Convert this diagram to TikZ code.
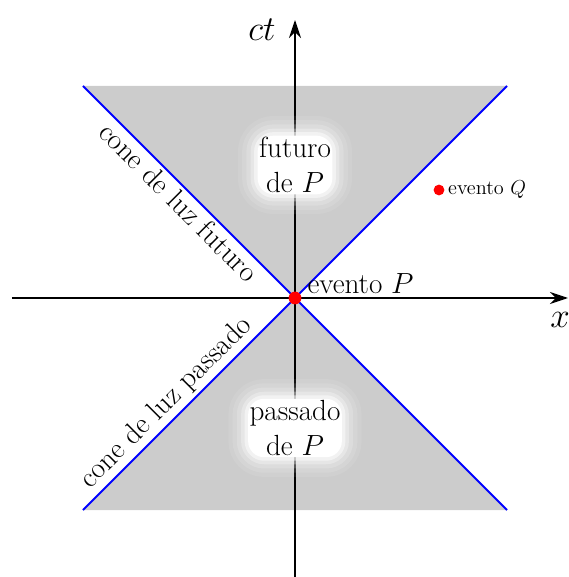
\documentclass[tikz,border=0pt]{standalone}
\usepackage{amsmath}
\usepackage{tikz}
\usetikzlibrary{arrows.meta,positioning}
\definecolor{conegray}{HTML}{CCCCCC}
\begin{document}
\begin{tikzpicture}[
    x=0.025cm,
    y=0.025cm,
    font=\huge,
    axis/.style={-{Stealth[length=4.5mm, width=3mm]}, line width=1.2pt},
    cone/.style={draw=blue, line width=1.3pt},
    region/.style={fill=conegray},
    glow/.style={fill=white, rounded corners=4mm, align=center, inner sep=1pt,
      preaction={draw=white, line width=28pt, opacity=0.08, rounded corners=4mm},
      preaction={draw=white, line width=22pt, opacity=0.12, rounded corners=4mm},
      preaction={draw=white, line width=16pt, opacity=0.18, rounded corners=4mm},
      preaction={draw=white, line width=10pt, opacity=0.3, rounded corners=4mm},
      preaction={draw=white, line width=5pt, opacity=0.5, rounded corners=4mm}},
    event/.style={circle, fill=red, inner sep=0pt, minimum size=3.2mm}
  ]
    \useasboundingbox (-295,-279) rectangle (273,298);
    \coordinate (P) at (0,0);
    \coordinate (ul) at (-212,212);
    \coordinate (ur) at (212,212);
    \coordinate (ll) at (-212,-212);
    \coordinate (lr) at (212,-212);
    \coordinate (xl) at (-283,0);
    \coordinate (xr) at (273,0);
    \coordinate (tb) at (0,-280);
    \coordinate (tt) at (0,278);

    % cones
    \fill[region] (P) -- (ul) -- (ur) -- cycle;
    \fill[region] (P) -- (ll) -- (lr) -- cycle;

    % axes
    \draw[axis] (xl) -- (xr);
    \draw[axis] (tb) -- (tt);
    \node[font=\Huge] (ctlabel) at (-33,268) {$ct$};
    \node[font=\Huge] (xlabel) at (265,-22) {$x$};

    \draw[cone] (ul) -- node[pos=0.25, sloped, below, inner sep=2pt] {cone de luz futuro} (lr);
    \draw[cone] (ll) -- node[pos=0.225, sloped, above, inner sep=2pt] {cone de luz passado} (ur);

    \node[glow] (future) at (0,133) {futuro\\de $P$};
    \node[glow] (past) at (0,-130) {passado\\de $P$};

    \node[event] (Pdot) at (P) {};
    \node[above right=-4pt and 2pt of Pdot] (Plabel) {evento $P$};
    \node[event, minimum size=2.7mm] (Q) at (144,108) {};
    \node[right=-1pt of Q, font=\Large] (Qlabel) {evento $Q$};
\end{tikzpicture}
\end{document}
